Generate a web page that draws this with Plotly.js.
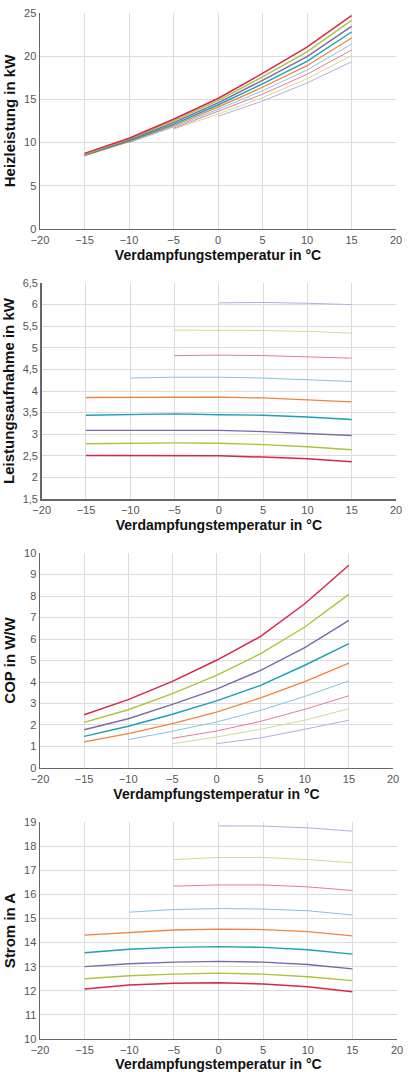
<!DOCTYPE html>
<html>
<head>
<meta charset="utf-8">
<script src="https://cdn.plot.ly/plotly-3.0.1.min.js"></script>
<style>
html,body{margin:0;padding:0;background:#fff;}
#chart{width:412px;height:1072px;}
</style>
</head>
<body>
<div id="chart"></div>
<script>
// Verdampfungstemperatur (°C)
const temps = [-15, -10, -5, 0, 5, 10, 15];

const seriesColors = ['#d8264b', '#abc43c', '#7b69a9', '#1ba0b6', '#f0843f', '#84c3e2', '#e27b9c', '#cfdd92', '#b6aedb'];
const seriesWidths = [1.5, 1.4, 1.4, 1.4, 1.3, 1, 1, 1, 1];

// Heizleistung in kW
const heizleistung = [
  [8.75, 10.5, 12.7, 15.1, 18.0, 21.05, 24.7],
  [8.65, 10.4, 12.5, 14.85, 17.6, 20.5, 24.15],
  [8.6, 10.3, 12.3, 14.6, 17.2, 19.95, 23.45],
  [8.55, 10.2, 12.1, 14.35, 16.8, 19.4, 22.8],
  [8.5, 10.1, 11.95, 14.1, 16.4, 18.9, 22.1],
  [null, 10.0, 11.8, 13.85, 16.0, 18.4, 21.4],
  [null, null, 11.65, 13.6, 15.6, 17.9, 20.7],
  [null, null, 11.55, 13.3, 15.2, 17.4, 20.05],
  [null, null, null, 13.05, 14.8, 16.9, 19.35]
];

// Leistungsaufnahme in kW
const leistungsaufnahme = [
  [2.51, 2.51, 2.51, 2.50, 2.47, 2.43, 2.36],
  [2.78, 2.79, 2.80, 2.79, 2.76, 2.71, 2.64],
  [3.09, 3.09, 3.10, 3.09, 3.06, 3.02, 2.97],
  [3.44, 3.45, 3.47, 3.45, 3.44, 3.40, 3.34],
  [3.85, 3.85, 3.86, 3.86, 3.84, 3.80, 3.75],
  [null, 4.30, 4.32, 4.32, 4.30, 4.26, 4.22],
  [null, null, 4.82, 4.83, 4.82, 4.79, 4.76],
  [null, null, 5.41, 5.41, 5.40, 5.38, 5.34],
  [null, null, null, 6.04, 6.05, 6.03, 6.00]
];

// COP in W/W
const cop = [
  [2.48, 3.18, 4.03, 5.01, 6.12, 7.64, 9.43],
  [2.12, 2.71, 3.46, 4.31, 5.32, 6.56, 8.08],
  [1.78, 2.29, 2.96, 3.67, 4.54, 5.60, 6.87],
  [1.47, 1.94, 2.50, 3.12, 3.84, 4.78, 5.78],
  [1.21, 1.60, 2.06, 2.60, 3.26, 4.02, 4.88],
  [null, 1.32, 1.71, 2.14, 2.68, 3.33, 4.05],
  [null, null, 1.38, 1.72, 2.17, 2.73, 3.36],
  [null, null, 1.13, 1.44, 1.80, 2.22, 2.76],
  [null, null, null, 1.13, 1.40, 1.80, 2.22]
];

// Strom in A
const strom = [
  [12.07, 12.24, 12.31, 12.33, 12.28, 12.17, 11.96],
  [12.50, 12.62, 12.69, 12.73, 12.69, 12.58, 12.42],
  [13.00, 13.12, 13.19, 13.22, 13.19, 13.09, 12.91],
  [13.58, 13.72, 13.80, 13.83, 13.80, 13.70, 13.52],
  [14.31, 14.43, 14.52, 14.56, 14.54, 14.45, 14.28],
  [null, 15.26, 15.37, 15.41, 15.39, 15.32, 15.14],
  [null, null, 16.34, 16.39, 16.39, 16.31, 16.16],
  [null, null, 17.44, 17.53, 17.53, 17.44, 17.31],
  [null, null, null, 18.84, 18.83, 18.76, 18.62]
];

const xTitle = 'Verdampfungstemperatur in °C';
const yTitles = ['Heizleistung in kW', 'Leistungsaufnahme in kW', 'COP in W/W', 'Strom in A'];
const datasets = [heizleistung, leistungsaufnahme, cop, strom];

const FONT = 'Liberation Sans, Arial, sans-serif';
const traces = [];
datasets.forEach((ds, p) => {
  const sfx = p === 0 ? '' : String(p + 1);
  // draw in reverse so first series ends on top
  for (let i = ds.length - 1; i >= 0; i--) {
    traces.push({
      type: 'scatter', mode: 'lines',
      x: temps, y: ds[i],
      xaxis: 'x' + sfx, yaxis: 'y' + sfx,
      line: {color: seriesColors[i], width: seriesWidths[i]},
      connectgaps: false, showlegend: false, hoverinfo: 'skip'
    });
  }
});

function xa(domain, anchor) {
  return {
    domain: domain, anchor: anchor,
    range: [-20, 20], dtick: 5, tick0: -20,
    showgrid: true, gridcolor: '#dcdcdc', gridwidth: 1,
    zeroline: false,
    showline: true, linecolor: '#666', linewidth: 1.5,
    ticks: '', tickfont: {family: FONT, size: 11, color: '#555'},
    title: {text: xTitle, font: {family: FONT, size: 14, color: '#111', weight: 'bold'}, standoff: 5},
    fixedrange: true
  };
}
function ya(domain, anchor, range, dtick, title) {
  return {
    domain: domain, anchor: anchor,
    range: range, dtick: dtick, tick0: range[0],
    showgrid: true, gridcolor: '#dcdcdc', gridwidth: 1,
    zeroline: false,
    showline: true, linecolor: '#666', linewidth: 1.5,
    ticks: '', tickfont: {family: FONT, size: 11, color: '#555'},
    title: {text: title, font: {family: FONT, size: 15, color: '#111', weight: 'bold'}, standoff: 5},
    fixedrange: true
  };
}

const layout = {
  width: 412, height: 1072,
  margin: {l: 0, r: 0, t: 0, b: 0},
  paper_bgcolor: '#fff', plot_bgcolor: '#fff',
  separators: ',.',
  font: {family: FONT},
  xaxis: xa([0.0971, 0.9612], 'y'),
  yaxis: ya([0.7864, 0.9879], 'x', [0, 25], 5, yTitles[0]),
  xaxis2: xa([0.1012, 0.9612], 'y2'),
  yaxis2: ya([0.5345, 0.7360], 'x2', [1.5, 6.5], 0.5, yTitles[1]),
  xaxis3: xa([0.0971, 0.9539], 'y3'),
  yaxis3: ya([0.2836, 0.4841], 'x3', [0, 10], 1, yTitles[2]),
  xaxis4: xa([0.0971, 0.9636], 'y4'),
  yaxis4: ya([0.0308, 0.2332], 'x4', [10, 19], 1, yTitles[3])
};

Plotly.newPlot('chart', traces, layout, {displayModeBar: false, staticPlot: true});
</script>
</body>
</html>
